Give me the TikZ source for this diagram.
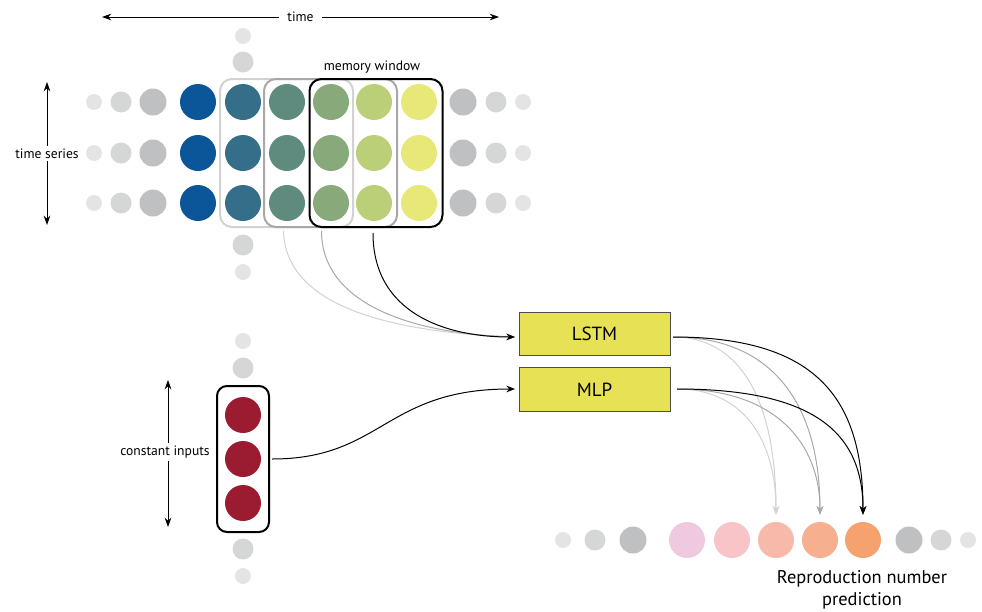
\documentclass[tikz,border=0pt]{standalone}
\usepackage{fontspec}
\setmainfont{PT Sans}
\usetikzlibrary{arrows.meta,calc}
\definecolor{gA}{HTML}{BFC0C1}
\definecolor{gB}{HTML}{D5D6D6}
\definecolor{gC}{HTML}{E4E4E4}
\definecolor{cA}{HTML}{0B5599}
\definecolor{cB}{HTML}{356E89}
\definecolor{cC}{HTML}{5E8B7E}
\definecolor{cD}{HTML}{88AA7A}
\definecolor{cE}{HTML}{BACF77}
\definecolor{cF}{HTML}{E8E878}
\definecolor{redin}{HTML}{9B1B30}
\definecolor{pA}{HTML}{EFCADF}
\definecolor{pB}{HTML}{F8C4C8}
\definecolor{pC}{HTML}{F7B9A9}
\definecolor{pD}{HTML}{F7B08F}
\definecolor{pE}{HTML}{F5A26F}
\definecolor{boxy}{HTML}{E6E155}
\definecolor{lightline}{HTML}{D2D2D2}
\definecolor{midline}{HTML}{A8A8A8}
\tikzset{
  big/.style={circle,inner sep=0pt,minimum size=27pt,fill=#1},
  gdA/.style={circle,inner sep=0pt,minimum size=20.25pt,fill=gA},
  gdB/.style={circle,inner sep=0pt,minimum size=15.75pt,fill=gB},
  gdC/.style={circle,inner sep=0pt,minimum size=12pt,fill=gC},
  win/.style={draw=#1,line width=1.5pt,rounded corners=9pt,minimum width=99.75pt,minimum height=111pt,inner sep=0pt},
  netbox/.style={draw=black!70,line width=0.75pt,fill=boxy,minimum width=113.25pt,minimum height=32.5pt,inner sep=0pt,font=\fontsize{14.25}{16}\selectfont},
  lbl/.style={font=\fontsize{10.2}{12}\selectfont,fill=white,inner sep=2pt},
  conn/.style={line width=0.75pt,-{Stealth[length=6.5pt,width=5pt]},draw=#1},
  axis/.style={line width=0.75pt,{Stealth[length=7pt,width=5pt]}-{Stealth[length=7pt,width=5pt]}},
}
\begin{document}
\begin{tikzpicture}[x=0.75pt,y=-0.75pt]
\useasboundingbox (0,0) rectangle (982,611);
% time axis
\coordinate (tl) at (102,17);
\coordinate (tr) at (499,17);
\draw[axis] (tl) -- (tr) node[midway,lbl,inner xsep=6pt] (timelbl) {time};
% time series axis
\coordinate (tsu) at (47,82);
\coordinate (tsd) at (47,225);
\draw[axis] (tsu) -- (tsd) node[midway,lbl] (tslbl) {time series};
% constant inputs axis
\coordinate (ciu) at (168,380);
\coordinate (cid) at (168,527);
\draw[axis] (ciu) -- (cid);
\node[lbl] (cilbl) at (165,452) {constant inputs};
% vertical gray column
\node[gdC] (v1) at (243,36) {};
\node[gdB] (v2) at (243,62) {};
\node[gdB] (v3) at (243,245) {};
\node[gdC] (v4) at (243,272) {};
\node[gdC] (v5) at (243,341) {};
\node[gdB] (v6) at (243,368) {};
\node[gdB] (v7) at (243,549) {};
\node[gdC] (v8) at (243,576) {};
% time-series grid
\foreach \y [count=\r] in {102,153,203} {
  \node[gdC] (l1-\r) at (94,\y) {};
  \node[gdB] (l2-\r) at (121,\y) {};
  \node[gdA] (l3-\r) at (153,\y) {};
  \foreach \x/\c [count=\i] in {198/cA,243/cB,287/cC,331/cD,374/cE,419/cF}
    \node[big=\c] (s\i-\r) at (\x,\y) {};
  \node[gdA] (r1-\r) at (463,\y) {};
  \node[gdB] (r2-\r) at (496,\y) {};
  \node[gdC] (r3-\r) at (523,\y) {};
}
% windows
\node[win=lightline] (w1) at (286.5,153) {};
\node[win=midline] (w2) at (330.5,153) {};
\node[win=black] (w3) at (376,153) {};
\node[font=\fontsize{10.2}{12}\selectfont] (memlbl) at (372,67) {memory window};
% constant inputs
\foreach \y [count=\i] in {415,459,503}
  \node[big=redin] (c\i) at (243,\y) {};
\node[draw=black,line width=1.5pt,rounded corners=7.5pt,minimum width=39pt,minimum height=109.5pt,inner sep=0pt] (cbox) at (243,459) {};
% networks
\node[netbox] (lstm) at (594.5,334) {LSTM};
\node[netbox] (mlp) at (594.5,389.5) {MLP};
% prediction row
\node[gdC] (q1) at (563,540) {};
\node[gdB] (q2) at (595,540) {};
\node[gdA] (q3) at (633,540) {};
\foreach \x/\c [count=\i] in {687/pA,732/pB,776/pC,820/pD,863/pE}
  \node[big=\c] (p\i) at (\x,540) {};
\node[gdA] (q4) at (909,540) {};
\node[gdB] (q5) at (941,540) {};
\node[gdC] (q6) at (968,540) {};
\node[font=\fontsize{13.8}{16.5}\selectfont,align=center] (predlbl) at (862,590) {Reproduction number\\prediction};
% input connectors
\coordinate (lin) at (515,337);
\draw[conn=lightline] ($(w1.south)+(-3,3)$) .. controls +(2,70) and +(-140,-6) .. (lin);
\draw[conn=midline] ($(w2.south)+(-9,3)$) .. controls +(0,70) and +(-110,-4) .. (lin);
\draw[conn=black] ($(w3.south)+(-3,5)$) .. controls +(0,80) and +(-70,0) .. (lin);
\coordinate (min) at (515,389);
\draw[conn=black] ($(cbox.east)+(2,0)$) .. controls +(110,0) and +(-130,0) .. (min);
% output connectors
\coordinate (lo) at (673,337);
\coordinate (mo) at (677,389);
\draw[conn=lightline] (lo) .. controls +(70,0) and +(0,-110) .. ($(p3.north)+(0,-7)$);
\draw[conn=lightline] (mo) .. controls +(70,0) and +(0,-70) .. ($(p3.north)+(0,-7)$);
\draw[conn=midline] (lo) .. controls +(100,0) and +(0,-110) .. ($(p4.north)+(0,-7)$);
\draw[conn=midline] (mo) .. controls +(100,0) and +(0,-70) .. ($(p4.north)+(0,-7)$);
\draw[conn=black] (lo) .. controls +(140,0) and +(0,-120) .. ($(p5.north)+(0,-7)$);
\draw[conn=black] (mo) .. controls +(140,0) and +(0,-80) .. ($(p5.north)+(0,-7)$);
\end{tikzpicture}
\end{document}
